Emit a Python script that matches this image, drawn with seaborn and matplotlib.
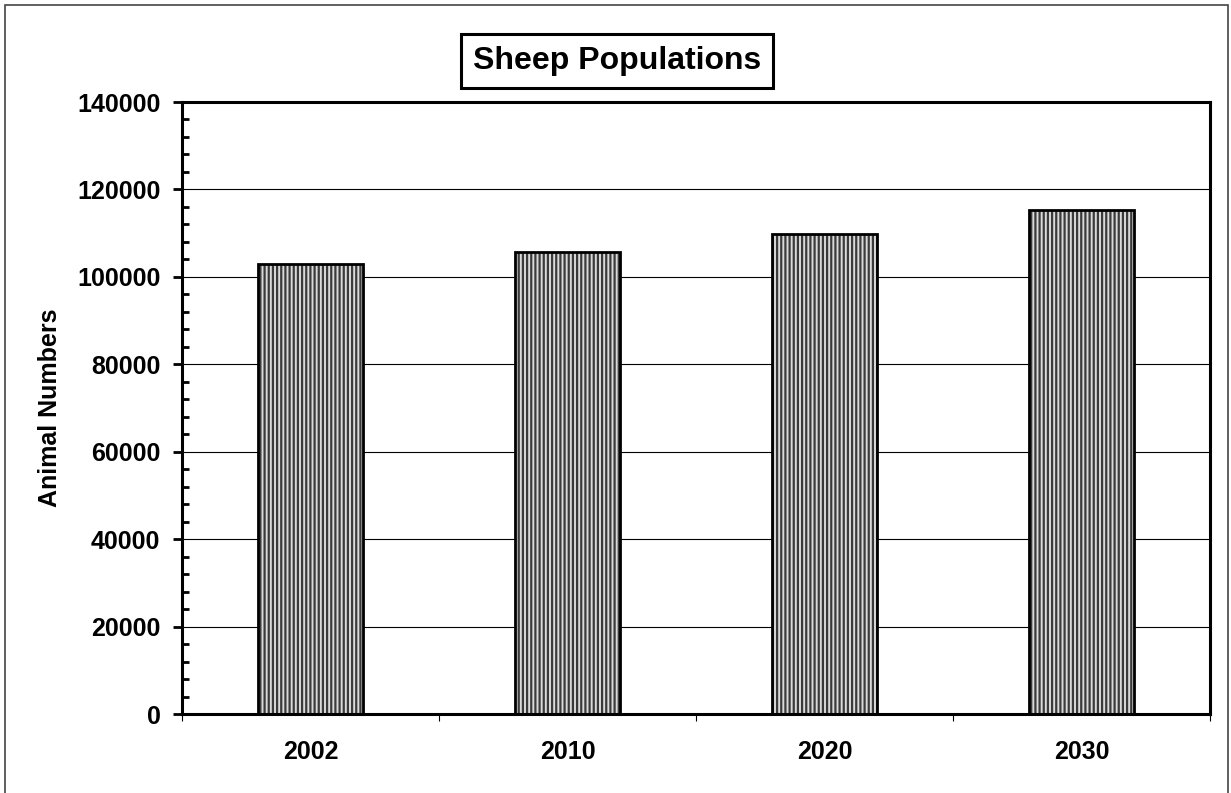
import pandas as pd
import matplotlib
matplotlib.use("Agg")
import matplotlib.pyplot as plt
import seaborn as sns
from matplotlib.patches import Rectangle
from matplotlib.ticker import MultipleLocator, FixedLocator

# Data
years = ["2002", "2010", "2020", "2030"]
sheep = [103000, 105700, 109800, 115300]

data = pd.DataFrame({"Year": years, "Animals": sheep})

sns.set_theme(style="white")
plt.rcParams["font.family"] = ["Liberation Sans", "DejaVu Sans"]
plt.rcParams["hatch.linewidth"] = 1.6
plt.rcParams["text.color"] = "black"
plt.rcParams["axes.labelcolor"] = "black"
plt.rcParams["xtick.color"] = "black"
plt.rcParams["ytick.color"] = "black"

fig = plt.figure(figsize=(12.31, 7.93), dpi=100)
ax = fig.add_axes([182 / 1231, 1 - 714 / 793, 1028 / 1231, 612 / 793])

sns.barplot(data=data, x="Year", y="Animals", width=0.405, color="#dadada",
            ax=ax, zorder=2)

# vertical stripe fill plus a black outline on each bar
for p in ax.patches:
    p.set_hatch("||||")
    p.set_edgecolor("#3a3a3a")
    p.set_linewidth(0)
    ax.add_patch(Rectangle(p.get_xy(), p.get_width(), p.get_height(),
                           fill=False, edgecolor="black", linewidth=2, zorder=3))

ax.set_ylim(0, 140000)
ax.set_xlim(-0.5, 3.5)
ax.yaxis.set_major_locator(MultipleLocator(20000))
ax.yaxis.set_minor_locator(MultipleLocator(4000))
ax.xaxis.set_minor_locator(FixedLocator([-0.5, 0.5, 1.5, 2.5, 3.5]))

ax.yaxis.grid(True, color="black", linewidth=0.8)
ax.set_axisbelow(True)

for s in ax.spines.values():
    s.set_visible(True)
    s.set_color("black")
    s.set_linewidth(2.2)

ax.tick_params(axis="y", which="major", direction="out", length=6.5, width=2,
               pad=9, labelsize=18, color="black", labelcolor="black", left=True)
ax.tick_params(axis="y", which="minor", direction="in", length=5, width=2,
               color="black", left=True)
ax.tick_params(axis="x", which="major", length=0, pad=19, labelsize=18,
               labelcolor="black")
ax.tick_params(axis="x", which="minor", direction="out", length=5, width=0.8,
               color="black", bottom=True)
for lab in ax.get_xticklabels() + ax.get_yticklabels():
    lab.set_fontweight("bold")

ax.set_xlabel("")
ax.set_ylabel("Animal Numbers", fontsize=18, fontweight="bold", color="black")
ax.yaxis.set_label_coords(-0.117, 0.5)

# boxed title
fig.text(617 / 1231, 1 - 61 / 793, "Sheep Populations", fontsize=23,
         fontweight="bold", ha="center", va="center", color="black",
         bbox=dict(boxstyle="square,pad=0.38", facecolor="white",
                   edgecolor="black", linewidth=2.2))

# thin frame round the whole chart
fig.patches.append(Rectangle((5 / 1231, -0.01), 1223 / 1231, 1 - 5 / 793 + 0.01,
                             transform=fig.transFigure, fill=False,
                             edgecolor="#444444", linewidth=1.2))

fig.savefig("out.png", dpi=100)
